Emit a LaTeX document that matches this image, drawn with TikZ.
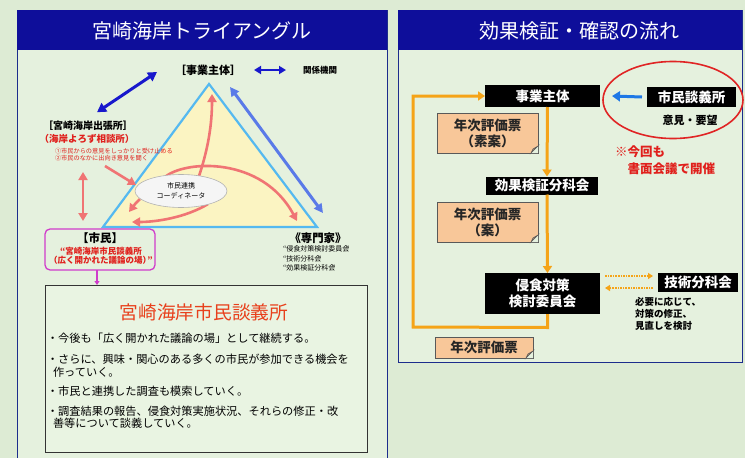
\documentclass[tikz,border=0pt]{standalone}
\usepackage{fontspec}
\setmainfont{Noto Sans CJK JP}
\usetikzlibrary{arrows.meta,shapes.geometric,calc}
\definecolor{bgout}{HTML}{DDEBD4}
\definecolor{bgin}{HTML}{E5F1DE}
\definecolor{hdr}{HTML}{0E0E9A}
\definecolor{pborder}{HTML}{1C2C8C}
\definecolor{tribg}{HTML}{FBF4C2}
\definecolor{triedge}{HTML}{55B9F0}
\definecolor{pinkc}{HTML}{F07474}
\definecolor{navyarr}{HTML}{1818CC}
\definecolor{bluearr}{HTML}{5A7AE8}
\definecolor{magc}{HTML}{D03CCB}
\definecolor{redtxt}{HTML}{E0201C}
\definecolor{titlered}{HTML}{E8401C}
\definecolor{orangec}{HTML}{F5A418}
\definecolor{paper}{HTML}{F8C799}
\definecolor{ellred}{HTML}{E02424}
\definecolor{flowblue}{HTML}{1E78E6}
\definecolor{boxbg}{HTML}{E9F4E2}
\newcommand{\myfs}[1]{\fontsize{#1}{#1}\selectfont}
\newcommand{\dogear}[1]{%
  \fill[bgin] (#1.south east) -- ++(-7,0) -- ++(7,-7) -- cycle;
  \filldraw[fill=paper!75!black, draw=gray!70!black, line width=0.6pt]
    ($(#1.south east)+(-7,0)$) -- ($(#1.south east)+(0,-7)$) -- ($(#1.south east)+(-5,-4)$) -- cycle;}
\begin{document}
\begin{tikzpicture}[x=1pt,y=-1pt,
  every node/.style={inner sep=0pt, outer sep=0pt},
  hdrtitle/.style={text=white, font=\myfs{20}},
  blackbox/.style={fill=black, text=white, font=\bfseries\fontsize{13.5}{16}\selectfont, align=center},
  paperbox/.style={fill=paper, draw=gray!70!black, line width=0.6pt, font=\bfseries\fontsize{13.5}{16}\selectfont, align=center, text=black!85},
  orangeline/.style={draw=orangec, line width=3pt},
  orangearrow/.style={orangeline, -{Triangle[length=7pt,width=9pt]}},
  dotarr/.style={draw=orangec, line width=1.6pt, densely dotted, -{Triangle[length=5pt,width=6pt]}},
  pinkarrow/.style={draw=pinkc, line width=2.6pt, -{Triangle[length=8pt,width=9pt]}},
  bullet/.style={anchor=west, font=\myfs{11.2}},
]
\useasboundingbox (0,0) rectangle (745,458);
\fill[bgout] (0,0) rectangle (745,458);

% ---------------- left panel ----------------
\draw[pborder, fill=bgin, line width=0.8pt] (17,10) rectangle (387,470);
\fill[hdr] (17,10) rectangle (387,50);
\node[hdrtitle] (ltitle) at (202,31) {宮崎海岸トライアングル};

% triangle
\filldraw[fill=tribg, draw=triedge, line width=2.2pt, line join=miter] (209,84) -- (317,227) -- (103,227) -- cycle;

% labels
\node[font=\bfseries\myfs{11}] (jigyoL) at (208,70) {［事業主体］};
\node[font=\bfseries\myfs{8.5}] (kankei) at (320,70) {関係機関};
\node[font=\bfseries\myfs{10}] (shucho) at (88,126) {［宮崎海岸出張所］};
\node[font=\bfseries\myfs{9.5}, text=redtxt] (yorozu) at (87,139) {（海岸よろず相談所）};
\node[anchor=north west, font=\fontsize{6.2}{7.5}\selectfont, text=redtxt, align=left] (note) at (55,148)
  {①市民からの意見をしっかりと受け止める\\②市民のなかに出向き意見を聞く};
\node[font=\bfseries\myfs{11.4}] (senmon) at (318,238) {《専門家》};
\node[anchor=north west, font=\fontsize{7}{9.5}\selectfont, align=left] (senmonsub) at (283,246)
  {“侵食対策検討委員会\kern-0.5em”\\“技術分科会\kern-0.5em”\\“効果検証分科会\kern-0.5em”};

% shimin box
\node[draw=magc, line width=1.3pt, rounded corners=5pt, minimum width=110pt, minimum height=41pt] (shiminbox) at (100,249.5) {};
\node[font=\bfseries\myfs{11.5}] (shiminT) at (100,238) {【市民】};
\node[font=\bfseries\fontsize{8.5}{9.5}\selectfont, text=redtxt, align=center] (shiminS) at (101,256)
  {“宮崎海岸市民談義所\\（広く開かれた議論の場）\kern-0.45em”};

% pink arrows inside the triangle
\coordinate (pA) at (198,179);
\coordinate (pApex) at (212,94);
\coordinate (pB) at (165,177);
\coordinate (pRight) at (297,221);
\coordinate (pC) at (140,199);
\coordinate (pLeft1) at (129,212);
\coordinate (pD) at (208,204);
\coordinate (pLeft2) at (132,222);
\draw[pinkarrow] (pA) .. controls (208,150) and (212,125) .. (pApex);
\draw[pinkarrow] (pB) .. controls (185,160) and (262,156) .. (pRight);
\draw[pinkarrow] (pC) .. controls (135,204) .. (pLeft1);
\draw[pinkarrow] (pD) .. controls (185,218) and (155,222) .. (pLeft2);

% coordinator ellipse
\node[ellipse, draw=gray!60, fill=gray!8, line width=0.6pt, minimum width=92pt, minimum height=33pt] (ell) at (181,191) {};
\node[font=\fontsize{7}{10}\selectfont, align=center] (ellT) at (181,191) {市民連携\\コーディネータ};
\draw[pinkarrow] ($(ell)+(-76,-25)$) -- ($(ell)+(-45,-6)$);
\draw[pinkc, line width=2.6pt, {Triangle[length=8pt,width=9pt]}-{Triangle[length=8pt,width=9pt]}]
  ($(shiminbox.north)+(-17,-57)$) -- ($(shiminbox.north)+(-17,-8)$);

% blue arrows
\draw[navyarr, line width=3pt, {Triangle[length=9pt,width=10pt]}-{Triangle[length=9pt,width=10pt]}]
  ($(shucho.north)+(9,-9)$) -- ($(jigyoL.west)+(-18,2)$);
\draw[navyarr, line width=2.5pt, {Triangle[length=7pt,width=8pt]}-{Triangle[length=7pt,width=8pt]}]
  ($(jigyoL.east)+(13,0)$) -- ($(kankei.west)+(-17,0)$);
\draw[bluearr, line width=3pt, {Triangle[length=9pt,width=9pt]}-{Triangle[length=9pt,width=9pt]}]
  ($(jigyoL)+(22,17)$) -- ($(senmon)+(5,-25)$);

% magenta arrow and bottom box
\node[draw=gray!40!black, fill=boxbg, line width=0.9pt, minimum width=322pt, minimum height=167pt] (danbox) at (206,368.5) {};
\draw[magc, line width=1.3pt, -{Triangle[length=4pt,width=5pt]}] ($(shiminbox.south)+(-3,0)$) -- ($(shiminbox.south |- danbox.north)+(-3,0)$);
\node[font=\myfs{18.7}, text=titlered] (dantitle) at (204,312) {宮崎海岸市民談義所};
\node[bullet] (b1) at (47,338) {・今後も「広く開かれた議論の場」として継続する。};
\node[bullet] (b2) at (47,359) {・さらに、興味・関心のある多くの市民が参加できる機会を};
\node[bullet] (b2b) at (53,372) {作っていく。};
\node[bullet] (b3) at (47,391) {・市民と連携した調査も模索していく。};
\node[bullet] (b4) at (47,411) {・調査結果の報告、侵食対策実施状況、それらの修正・改};
\node[bullet] (b4b) at (53,423) {善等について談義していく。};

% ---------------- right panel ----------------
\draw[pborder, fill=bgin, line width=0.8pt] (398,10) rectangle (742,362);
\fill[hdr] (398,10) rectangle (742,50);
\node[hdrtitle] (rtitle) at (579,31) {効果検証・確認の流れ};

\node[blackbox, minimum width=115pt, minimum height=22pt] (jigyo2) at (542.5,96) {事業主体};
\node[blackbox, minimum width=89pt, minimum height=20pt] (shiminD) at (691.5,97) {市民談義所};
\node[blackbox, minimum width=112pt, minimum height=18pt] (kouka) at (542,185.5) {効果検証分科会};
\node[blackbox, minimum width=115pt, minimum height=41pt] (shinshoku) at (542.5,293.5) {侵食対策\\検討委員会};
\node[blackbox, minimum width=80pt, minimum height=19pt] (gijutsu) at (698,282.5) {技術分科会};

\node[paperbox, minimum width=101pt, minimum height=40pt] (nenji1) at (487.5,133) {年次評価票\\（素案）};
\dogear{nenji1}
\node[paperbox, minimum width=101pt, minimum height=40pt] (nenji2) at (487.5,222) {年次評価票\\（案）};
\dogear{nenji2}
\node[paperbox, minimum width=98pt, minimum height=21pt] (nenji3) at (484,347.5) {年次評価票};
\dogear{nenji3}

\node[ellipse, draw=ellred, line width=1.6pt, minimum width=140pt, minimum height=77pt] (redell) at (673,100) {};
\node[font=\bfseries\myfs{11}] (iken) at (690,120) {意見・要望};
\node[anchor=north west, font=\bfseries\fontsize{12.5}{17}\selectfont, text=redtxt, align=left] (konkai) at (615,146)
  {※今回も\\\hspace{1em}書面会議で開催};
\node[anchor=north west, font=\bfseries\fontsize{9.5}{12}\selectfont, align=left] (hitsuyo) at (635,297)
  {必要に応じて、\\対策の修正、\\見直しを検討};

% flow connectors
\coordinate (loopx) at (413,327);
\draw[orangearrow] ($(jigyo2.south)+(5,0)$) -- ($(kouka.north)+(5,0)$);
\draw[orangearrow] ($(kouka.south)+(5,0)$) -- ($(shinshoku.north)+(5,0)$);
\draw[orangearrow, line join=miter] ($(shinshoku.south)+(5,0)$) -- ($(shinshoku.south)+(5,13.5)$) -- (loopx) -- (loopx |- jigyo2.west) -- (jigyo2.west);
\draw[flowblue, line width=3pt, -{Triangle[length=8pt,width=10pt]}] ($(shiminD.west)+(-5,0)$) -- ($(jigyo2.east)+(12,0)$);
\draw[dotarr] ($(shinshoku.east)+(5,-17.5)$) -- ($(gijutsu.west)+(-5,-6.5)$);
\draw[dotarr] ($(gijutsu.west)+(-5,5.5)$) -- ($(shinshoku.east)+(5,-5.5)$);
\end{tikzpicture}
\end{document}
